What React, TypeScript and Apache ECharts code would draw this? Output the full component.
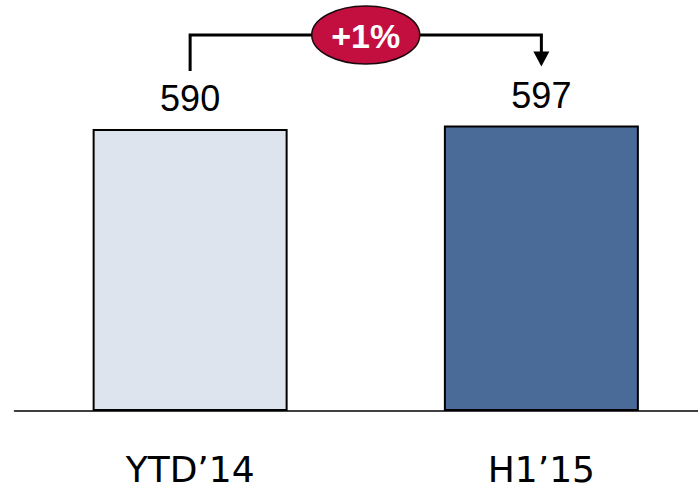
import React, { useEffect, useRef } from "react";
import * as echarts from "echarts";

// Periods and their values
const categories: string[] = ["YTD’14", "H1’15"];
const values: number[] = [590, 597];
const barColors: string[] = ["#DEE4EE", "#4A6A98"];
const changeLabel = "+1%";

export default function App() {
  const ref = useRef<HTMLDivElement>(null);

  useEffect(() => {
    if (!ref.current) return;
    const chart = echarts.init(ref.current, undefined, { renderer: "svg" });

    chart.setOption({
      animation: false,
      grid: { left: 14.5, right: 0, top: 28.5, bottom: 75.5, containLabel: false },
      xAxis: {
        type: "category",
        data: categories,
        axisLine: { show: true, lineStyle: { color: "#000", width: 1.5 } },
        axisTick: { show: false },
        axisLabel: {
          fontFamily: "DejaVu Sans",
          fontSize: 36,
          lineHeight: 30,
          color: "#000",
          margin: 43,
        },
      },
      yAxis: {
        type: "value",
        min: 0,
        max: 800,
        show: false,
        splitLine: { show: false },
      },
      series: [
        {
          type: "bar",
          barWidth: 195,
          data: values.map((v, i) => ({
            value: v,
            itemStyle: { color: barColors[i], borderColor: "#000", borderWidth: 2 },
          })),
          label: {
            show: true,
            position: "top",
            distance: 12,
            fontFamily: "Liberation Sans, Arial, sans-serif",
            fontSize: 36,
            color: "#000",
          },
        },
      ],
    });

    // Change connector between the two bars, anchored to the bar positions
    const [x0, top0] = chart.convertToPixel({ seriesIndex: 0 }, [0, values[0]]) as number[];
    const [x1, top1] = chart.convertToPixel({ seriesIndex: 0 }, [1, values[1]]) as number[];
    const lineY = 35;
    const startY = top0 - 58;
    const tipY = top1 - 59;
    const headH = 15;
    const headW = 8;
    const midX = (x0 + x1) / 2;

    chart.setOption({
      graphic: [
        {
          type: "polyline",
          shape: {
            points: [
              [x0, startY],
              [x0, lineY],
              [x1, lineY],
              [x1, tipY - headH + 1],
            ],
          },
          style: { stroke: "#000", lineWidth: 3, fill: null },
          z: 10,
        },
        {
          type: "polygon",
          shape: {
            points: [
              [x1 - headW, tipY - headH],
              [x1 + headW, tipY - headH],
              [x1, tipY],
            ],
          },
          style: { fill: "#000" },
          z: 10,
        },
        {
          type: "ellipse",
          shape: { cx: midX, cy: lineY, rx: 54, ry: 29 },
          style: { fill: "#C20F40", stroke: "#1a0a0d", lineWidth: 1.5 },
          z: 11,
        },
        {
          type: "text",
          x: midX,
          y: lineY + 1,
          style: {
            text: changeLabel,
            fill: "#fff",
            font: "bold 34px 'Liberation Sans', Arial, sans-serif",
            align: "center",
            verticalAlign: "middle",
          },
          z: 12,
        },
      ],
    });

    return () => chart.dispose();
  }, []);

  // The plot runs a little past the right edge of the frame, so the axis line is trimmed there
  return (
    <div
      style={{
        position: "fixed",
        left: 0,
        top: 0,
        width: 698,
        height: 487,
        overflow: "hidden",
        background: "#fff",
      }}
    >
      <div ref={ref} style={{ width: 717, height: 487 }} />
    </div>
  );
}
